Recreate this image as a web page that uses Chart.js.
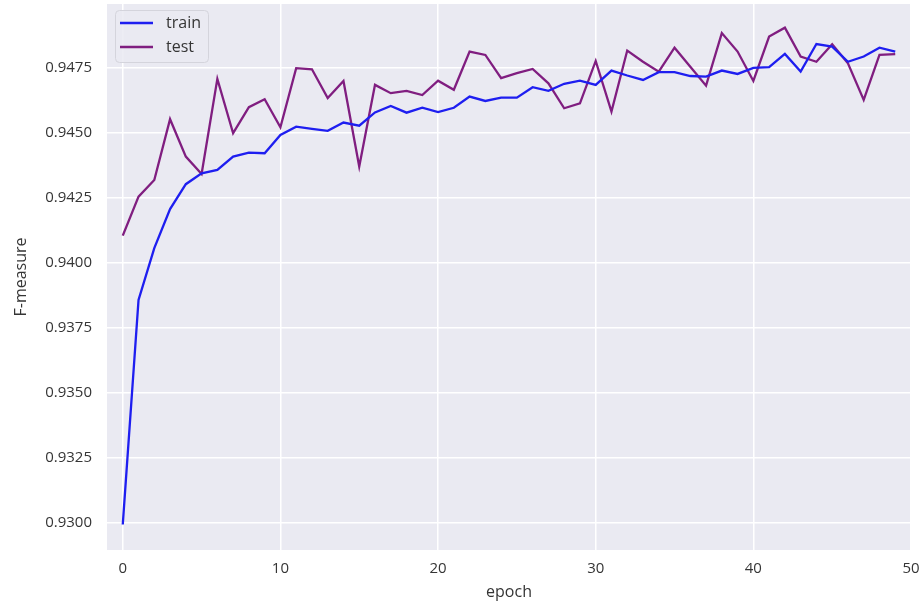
<!DOCTYPE html>
<html>
<head>
<meta charset="utf-8">
<script src="https://cdn.jsdelivr.net/npm/chart.js@4"></script>
<style>
  html, body { margin: 0; padding: 0; background: #ffffff; }
  #wrap { width: 923px; height: 604px; }
</style>
</head>
<body>
<div id="wrap"><canvas id="scoreChart" width="923" height="604"></canvas></div>
<script>
var epochs = [];
for (let i = 0; i < 50; i++) {
    epochs[i] = i;
}

var trainScores = [0.92995, 0.93859, 0.94058, 0.94208, 0.94304, 0.94346, 0.94359, 0.94410, 0.94425, 0.94423,
                   0.94493, 0.94525, 0.94517, 0.94509, 0.94541, 0.94529, 0.94580, 0.94605, 0.94579, 0.94598,
                   0.94581, 0.94598, 0.94641, 0.94624, 0.94637, 0.94637, 0.94677, 0.94663, 0.94690, 0.94702,
                   0.94686, 0.94741, 0.94722, 0.94705, 0.94735, 0.94735, 0.94720, 0.94718, 0.94741, 0.94728,
                   0.94751, 0.94754, 0.94805, 0.94737, 0.94843, 0.94833, 0.94775, 0.94795, 0.94829, 0.94814];

var testScores = [0.94106, 0.94256, 0.94320, 0.94554, 0.94410, 0.94343, 0.94709, 0.94500, 0.94600, 0.94631,
                  0.94523, 0.94750, 0.94746, 0.94635, 0.94701, 0.94372, 0.94686, 0.94654, 0.94663, 0.94647,
                  0.94702, 0.94667, 0.94814, 0.94801, 0.94712, 0.94731, 0.94747, 0.94692, 0.94596, 0.94615,
                  0.94778, 0.94583, 0.94818, 0.94775, 0.94737, 0.94829, 0.94756, 0.94683, 0.94885, 0.94814,
                  0.94701, 0.94872, 0.94906, 0.94795, 0.94775, 0.94842, 0.94769, 0.94628, 0.94801, 0.94804];

var xTicks = [0, 10, 20, 30, 40, 50];
var yTicks = [0.9300, 0.9325, 0.9350, 0.9375, 0.9400, 0.9425, 0.9450, 0.9475];

var fontFamily = "'Open Sans', 'DejaVu Sans', sans-serif";
var textColor = '#353535';

// seaborn-like grey panel behind the plot
const panelBackground = {
    id: 'panelBackground',
    beforeDraw(chart) {
        const a = chart.chartArea;
        const c = chart.ctx;
        c.save();
        c.fillStyle = '#eaeaf2';
        c.fillRect(a.left, a.top, a.right - a.left, a.bottom - a.top);
        c.restore();
    }
};

// legend box in the upper left corner of the plot
const cornerLegend = {
    id: 'cornerLegend',
    afterDraw(chart) {
        const c = chart.ctx;
        const a = chart.chartArea;
        const x = a.left + 8, y = a.top + 6, w = 93, h = 52;
        c.save();
        c.fillStyle = 'rgba(234,234,242,0.85)';
        c.strokeStyle = '#d4d4dc';
        c.lineWidth = 1;
        c.beginPath();
        c.roundRect(x + 0.5, y + 0.5, w, h, 4);
        c.fill();
        c.stroke();
        c.font = '16px ' + fontFamily;
        c.textBaseline = 'middle';
        chart.data.datasets.forEach(function (ds, i) {
            const ry = y + 13 + i * 24;
            c.strokeStyle = ds.borderColor;
            c.lineWidth = 2.4;
            c.beginPath();
            c.moveTo(x + 5, ry);
            c.lineTo(x + 38, ry);
            c.stroke();
            c.fillStyle = textColor;
            c.fillText(ds.label, x + 51, ry);
        });
        c.restore();
    }
};

var ctx = document.getElementById('scoreChart').getContext('2d');

var scoreChart = new Chart(ctx, {
    type: 'line',
    data: {
        datasets: [{
            label: 'train',
            data: epochs.map((e, i) => ({ x: e, y: trainScores[i] })),
            borderColor: 'rgb(30,30,240)',
            borderWidth: 2.3,
            pointRadius: 0,
            fill: false,
            tension: 0
        }, {
            label: 'test',
            data: epochs.map((e, i) => ({ x: e, y: testScores[i] })),
            borderColor: 'rgb(128,30,128)',
            borderWidth: 2.3,
            pointRadius: 0,
            fill: false,
            tension: 0
        }]
    },
    options: {
        responsive: false,
        animation: false,
        layout: {
            padding: { top: 4, right: 12, bottom: 0, left: 0 }
        },
        plugins: {
            legend: { display: false },
            tooltip: { enabled: false }
        },
        scales: {
            x: {
                type: 'linear',
                min: -1,
                max: 50,
                afterBuildTicks: function (scale) {
                    scale.ticks = xTicks.map(v => ({ value: v }));
                },
                afterFit: function (scale) {
                    scale.height = 54;
                    scale.paddingLeft = 0;
                    scale.paddingRight = 0;
                },
                grid: { color: '#ffffff', lineWidth: 1.5, drawTicks: false },
                border: { display: false },
                ticks: {
                    padding: 10,
                    color: textColor,
                    font: { family: fontFamily, size: 15 },
                    maxRotation: 0
                },
                title: {
                    display: true,
                    text: 'epoch',
                    color: textColor,
                    font: { family: fontFamily, size: 16 },
                    padding: { top: 0, bottom: 2 }
                }
            },
            y: {
                min: 0.92897,
                max: 0.94997,
                afterBuildTicks: function (scale) {
                    scale.ticks = yTicks.map(v => ({ value: v }));
                },
                afterFit: function (scale) {
                    scale.width = 107;
                    scale.paddingTop = 0;
                    scale.paddingBottom = 0;
                },
                grid: { color: '#ffffff', lineWidth: 1.5, drawTicks: false },
                border: { display: false },
                ticks: {
                    padding: 15,
                    color: textColor,
                    font: { family: fontFamily, size: 15 },
                    callback: v => v.toFixed(4)
                },
                title: {
                    display: true,
                    text: 'F-measure',
                    color: textColor,
                    font: { family: fontFamily, size: 16 },
                    padding: { top: 12, bottom: 0 }
                }
            }
        }
    },
    plugins: [panelBackground, cornerLegend]
});
</script>
</body>
</html>
